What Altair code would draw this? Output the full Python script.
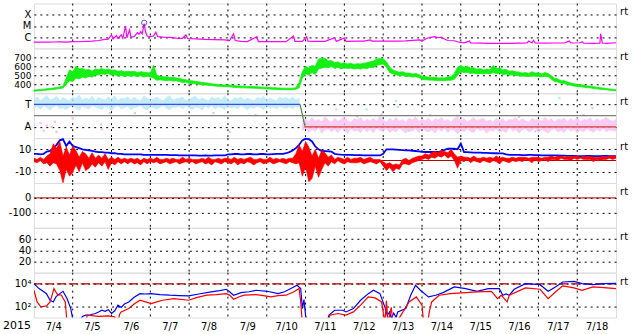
import altair as alt
import pandas as pd

W, H = 584, 45
FONT = "DejaVu Sans"

# ---------------- data (hours since 2015-07-04 00:00) ----------------
day_lines = [24, 48, 72, 96, 120, 144, 168, 192, 216, 240, 264, 288, 312, 336]
day_label_pos = [12, 36, 60, 84, 108, 132, 156, 180, 204, 228, 252, 276, 300, 324, 348]
hours2 = list(range(0, 361, 2))

# X-ray flux (log10 W/m2)
xray_h = [0, 4, 8, 12, 16, 20, 24, 28, 32, 36, 40, 44, 46, 48, 49, 51, 52, 54, 55, 56.7, 57.5,
          59.2, 60, 62, 64, 65, 66, 67, 68.2, 69, 70, 72, 74, 75.4, 76.5, 80, 84, 88, 92, 94, 95,
          100, 106, 112, 118, 121, 123.5, 124.5, 128, 132, 137.9, 138.8, 144, 150, 156, 160.5,
          161.5, 166, 168.7, 169.5, 174, 180, 186, 187, 192, 193, 200, 204, 208, 209, 216, 224,
          230, 238.6, 240, 243, 246, 248, 250, 252, 253.5, 256, 260, 263, 266, 269.4, 270, 276,
          282, 288, 294, 300, 305, 306, 308, 309, 310, 316, 322, 328, 331, 332, 338, 339, 340,
          346, 350, 350.5, 351.5, 354, 360]
xray_log = [-6.45, -6.44, -6.45, -6.43, -6.42, -6.44, -6.40, -6.41, -6.38, -6.36, -6.30, -6.20,
            -6.17, -5.80, -6.15, -5.85, -6.12, -5.80, -6.10, -5.00, -6.05, -5.34, -6.00, -5.95,
            -5.60, -5.75, -5.50, -5.70, -4.80, -5.50, -5.90, -5.95, -5.90, -5.55, -5.95, -6.00,
            -6.02, -6.08, -6.10, -5.80, -6.12, -6.15, -6.20, -6.22, -6.25, -6.30, -5.70, -6.30,
            -6.38, -6.40, -5.95, -6.40, -6.40, -6.40, -6.40, -5.90, -6.38, -6.38, -5.95, -6.36,
            -6.38, -6.37, -6.05, -6.38, -6.08, -6.38, -6.36, -6.35, -6.25, -6.36, -6.36, -6.35,
            -6.33, -6.25, -6.35, -6.10, -6.00, -5.95, -6.05, -6.00, -6.15, -6.30, -6.32, -6.45,
            -6.50, -6.35, -6.52, -6.54, -6.55, -6.55, -6.56, -6.54, -6.52, -6.35, -6.52, -6.28,
            -6.52, -6.53, -6.52, -6.52, -6.35, -6.52, -6.50, -6.40, -6.54, -6.55, -6.54, -5.70,
            -6.52, -6.55, -6.50]
flare_h = [68.2]
flare_log = [-4.72]

# Solar wind speed (km/s): low / high of each 2-hour bin
wind_lo = [322, 326, 328, 332, 335, 338, 342, 347, 352, 358,
           400, 440, 430, 470, 460, 480, 470, 490, 480, 500,
           505, 515, 510, 520, 500, 505, 490, 500, 485, 495,
           490, 495, 485, 495, 480, 490, 480, 470, 445, 450,
           445, 440, 445, 435, 440, 430, 420, 425, 410, 405,
           405, 400, 395, 392, 388, 385, 380, 378, 375, 372,
           372, 370, 365, 364, 360, 360, 358, 357, 356, 355,
           352, 350, 348, 346, 344, 342, 340, 340, 338, 338,
           340, 345, 360, 470, 520, 500, 530, 510, 570, 580,
           590, 585, 600, 575, 590, 570, 585, 575, 580, 570,
           575, 570, 580, 575, 590, 585, 610, 620, 625, 590,
           530, 515, 505, 495, 500, 485, 490, 480, 485, 475,
           455, 450, 448, 445, 445, 440, 442, 440, 445, 445,
           455, 500, 540, 530, 535, 520, 525, 515, 520, 515,
           520, 515, 530, 520, 525, 505, 515, 500, 505, 495,
           495, 490, 492, 485, 495, 488, 490, 482, 490, 485,
           455, 432, 425, 410, 408, 395, 388, 380, 375, 372,
           368, 362, 360, 352, 350, 344, 342, 338, 334, 330, 326]
wind_hi = [336, 338, 342, 345, 350, 352, 358, 364, 370, 380,
           470, 560, 540, 600, 570, 575, 560, 565, 545, 570,
           565, 575, 560, 570, 555, 560, 545, 550, 540, 545,
           540, 545, 530, 540, 535, 530, 525, 612, 500, 490,
           485, 480, 478, 475, 470, 468, 455, 450, 440, 438,
           432, 428, 420, 418, 412, 405, 400, 398, 395, 392,
           392, 390, 385, 382, 380, 378, 376, 375, 374, 372,
           370, 368, 366, 364, 362, 360, 358, 356, 355, 356,
           356, 362, 420, 540, 600, 580, 610, 600, 680, 690,
           690, 660, 665, 640, 650, 630, 640, 625, 635, 620,
           630, 625, 635, 640, 650, 660, 680, 690, 685, 650,
           590, 560, 545, 535, 540, 525, 525, 515, 520, 510,
           490, 485, 480, 475, 478, 470, 472, 470, 480, 485,
           520, 590, 610, 590, 600, 580, 585, 565, 575, 560,
           570, 560, 610, 575, 585, 560, 565, 545, 550, 540,
           535, 525, 530, 520, 540, 525, 528, 515, 530, 520,
           495, 465, 460, 440, 440, 425, 415, 405, 400, 395,
           390, 382, 380, 372, 368, 362, 358, 352, 348, 344, 340]

# IMF sector (phi angle, deg): low / high of each 2-hour bin
toward_h = list(range(0, 165, 2))
toward_lo = [240, 255, 230, 260, 245, 225, 250, 265, 235, 245,
             230, 250, 260, 240, 225, 255, 245, 235, 260, 250,
             240, 230, 255, 245, 220, 250, 260, 235, 245, 255,
             230, 245, 250, 260, 240, 225, 255, 245, 235, 250,
             260, 240, 230, 250, 245, 255, 235, 260, 240, 230,
             250, 245, 225, 255, 240, 260, 235, 250, 245, 230,
             255, 240, 250, 235, 260, 245, 230, 250, 240, 255,
             245, 230, 260, 240, 250, 235, 255, 245, 240, 250,
             235, 255, 245]
toward_hi = [310, 330, 300, 320, 340, 305, 315, 335, 300, 325,
             310, 300, 330, 315, 345, 305, 320, 310, 335, 300,
             325, 315, 305, 330, 310, 340, 300, 320, 315, 330,
             305, 325, 310, 300, 335, 320, 305, 315, 330, 310,
             300, 325, 340, 305, 315, 320, 330, 300, 310, 325,
             335, 305, 320, 310, 300, 330, 315, 325, 305, 340,
             310, 300, 325, 315, 330, 305, 320, 310, 300, 325,
             315, 335, 305, 320, 310, 300, 330, 315, 325, 310,
             330, 305, 320]
away_h = list(range(166, 361, 2))
away_lo = [60, 80, 45, 70, 55, 85, 40, 65, 75, 50,
           70, 45, 80, 60, 35, 75, 55, 65, 45, 80,
           50, 70, 40, 85, 60, 55, 75, 45, 65, 50,
           80, 60, 40, 70, 55, 75, 45, 85, 60, 50,
           65, 40, 75, 55, 80, 45, 70, 60, 35, 65,
           50, 75, 55, 45, 80, 60, 70, 40, 65, 55,
           75, 50, 60, 45, 85, 55, 70, 40, 65, 75,
           50, 60, 80, 45, 70, 55, 40, 65, 75, 50,
           60, 45, 80, 55, 70, 40, 65, 50, 75, 60,
           45, 70, 55, 80, 50, 65, 60, 55]
away_hi = [140, 155, 125, 165, 135, 150, 130, 170, 145, 125,
           160, 135, 150, 170, 140, 125, 155, 145, 165, 130,
           150, 140, 160, 135, 175, 145, 130, 155, 140, 165,
           135, 150, 125, 160, 145, 170, 135, 150, 140, 160,
           130, 155, 145, 165, 135, 150, 125, 160, 170, 140,
           155, 130, 145, 165, 140, 150, 160, 135, 145, 125,
           160, 140, 155, 130, 150, 145, 165, 135, 155, 140,
           125, 160, 145, 150, 135, 165, 140, 155, 130, 150,
           145, 160, 135, 155, 140, 165, 130, 150, 145, 160,
           135, 155, 140, 150, 165, 145, 135, 150]
stray_pink_h = [4, 6, 8, 11, 13, 24, 41.6, 42, 121]
stray_pink_v = [120, 60, 100, 90, 130, 160, 110, 70, 50]
stray_gray_h = [14, 47, 62.5, 111, 137, 200, 215, 232, 245, 262, 300, 310, 340]
stray_gray_v = [50, 200, 200, 200, 185, 175, 190, 60, 185, 180, 170, 55, 185]
stray_blue_h = [187, 205.7, 224, 225, 286, 325, 345.4]
stray_blue_v = [230, 230, 296, 250, 260, 322, 240]
sector_toward_h = [0, 164.6]
sector_toward_v = [270, 270]
sector_switch_h = [164.6, 167.7]
sector_switch_v = [270, 90]
sector_away_h = [167.7, 360]
sector_away_v = [90, 90]

# IMF Bt (nT), every 2 h
bt = [6, 6, 5.5, 6, 8, 8.5, 11, 14, 18, 19,
      13, 17, 13, 12, 11, 10, 9.5, 9, 8.5, 8,
      7.5, 7.5, 7, 7, 6.5, 6.5, 6, 6, 5.5, 5.5,
      5.5, 5.5, 5.5, 5.5, 5, 5, 5, 5, 5, 5,
      5, 5, 4.8, 4.8, 4.8, 4.5, 4.5, 4.5, 4.5, 4.5,
      4.5, 4.3, 4.3, 4.5, 4.3, 4.3, 4.5, 4.5, 4.5, 4.5,
      5.5, 5.5, 5.8, 5.8, 5.5, 5.5, 5.8, 5.8, 5.5, 5.5,
      5.8, 5.8, 5.5, 5.5, 5.8, 6, 6, 6, 6.5, 7.5,
      9, 11, 14, 18, 19.5, 19, 17, 12.5, 10, 8.5,
      8.4, 8.2, 8, 6, 5.5, 5.2, 5, 5, 5, 4.8,
      4.8, 4.8, 4.6, 4.6, 4.5, 4.5, 4.5, 4.5, 6, 10,
      10, 10, 9.8, 9.5, 9.3, 9, 9, 8.7, 8.5, 8.2,
      7.8, 7.6, 7.6, 7.6, 7.6, 7.6, 8.5, 9.5, 10.5, 10.5,
      10.5, 10, 15, 7.5, 7.4, 7.2, 7, 7, 7, 6.8,
      6.8, 6.6, 6.5, 6.5, 6.4, 6.4, 5.5, 5, 5, 5,
      5, 4.8, 4.8, 5, 5, 4.8, 4.8, 4.6, 4.6, 4.5,
      4.5, 4.6, 4.6, 4.4, 4.4, 4.2, 4.2, 4.2, 4.0, 4.0,
      4, 4.2, 4.2, 4, 4, 4, 4.2, 4.2, 4, 4, 4]
# IMF Bz (nT): low / high of each 2-hour bin
bz_lo = [-1, -2, 0, -3, -2, -5, -2, -3, -9, -20,
         -8, -14, -11, -4, -10, -2, -9, -7, -3, -6,
         -2, -5, -1, -8, -2, -4, -1, -3, -1, -3,
         -1, -3, -2, -4, -1, -3, -1, -2, -1, -3,
         -2, -1, -3, -2, -1, -3, -2, -1, -2, -1,
         -3, -2, -1, -3, -2, -4, -1, -2, -3, -1,
         -2, -3, -1, -4, -2, -3, -1, -2, -4, -2,
         -1, -3, -2, -1, -3, -2, -1, -2, -3, -1,
         -2, -3, -2, -14, -6, -19, -16, -5, -15, -8,
         -2, -5, -1, -3, 0, -2, -3, -1, -2, -2,
         -2, -1, -3, -2, -1, -2, -3, -1, -5, -9,
         -6, -10, -7, -8, -3, -3, -4, -2, -1, 0,
         1, 2, 1, 3, 2, 4, 3, 5, 2, 4,
         0, -7, 0, -1, 1, -2, 0, -1, -2, 0,
         -1, -2, 0, -1, -3, 0, -1, -2, 0, -1,
         0, -1, 1, 0, -2, 1, -1, 0, 1, -1,
         1, 1, 0, 2, 1, 1, 0, 2, 1, 2,
         1, 1, 1, -1, 1, 0, 1, 1, 2, 1, 2]
bz_hi = [2, 1, 3, 1, 4, 6, 15, 11, 17, 4,
         12, 5, 13, 9, 3, 8, 6, 2, 7, 2,
         5, 2, 6, 1, 3, 1, 3, 1, 2, 1,
         2, 1, 2, 0, 2, 1, 2, 1, 3, 1,
         1, 2, 1, 2, 1, 1, 3, 1, 2, 1,
         1, 1, 2, 1, 3, 1, 1, 2, 1, 2,
         2, 1, 3, 1, 2, 1, 2, 3, 1, 1,
         2, 1, 1, 3, 1, 2, 1, 2, 1, 2,
         2, 6, 14, 8, 17, 12, 4, 10, 2, 9,
         7, 3, 5, 1, 3, 2, 1, 3, 1, 2,
         2, 3, 1, 2, 3, 1, 1, 1, -1, -3,
         -2, -4, -3, -4, 1, 2, 0, 2, 3, 4,
         4, 6, 5, 7, 8, 7, 9, 8, 7, 10,
         6, 3, 4, 3, 3, 2, 4, 2, 2, 3,
         2, 3, 2, 4, 2, 3, 2, 2, 3, 2,
         3, 3, 3, 2, 3, 3, 3, 2, 3, 3,
         4, 3, 4, 4, 3, 4, 3, 4, 4, 3,
         4, 3, 4, 3, 3, 3, 4, 3, 4, 4, 4]

# Electron flux (log10), two channels
elec_blue_h = [0, 3.2, 7.8, 10, 12, 13.6, 16, 18, 20.5, 22.8, 24.5, 28, 30, 32, 35, 38, 40, 42, 44,
               46, 48, 50, 52, 54, 56, 58.7, 62, 65.6, 69, 72.6, 78, 84, 90, 95.7, 102, 109.6, 115,
               119, 121, 123.5, 128, 133, 137.4, 144.3, 151, 155, 158, 162.8, 165, 166, 167, 168,
               169, 175, 181, 182.5, 186, 191, 193, 197.6, 202, 206.8, 210, 214, 217, 218.5, 220,
               221, 222.5, 224, 225, 230, 233, 236, 239, 244, 248.5, 253, 260, 267, 274, 281,
               287.8, 290, 292, 294, 297, 304, 313, 318, 322.5, 327, 334, 339, 345.7, 352.6, 360]
elec_blue_log = [4.02, 3.58, 3.13, 2.54, 2.39, 2.84, 3.13, 3.34, 2.69, 1.80, 0.5, 0.5, 1.1, 1.21,
                 1.25, 1.36, 1.5, 1.65, 1.55, 1.7, 1.36, 1.6, 2.1, 1.9, 2.2, 2.39, 2.8, 3.13, 3.1,
                 3.13, 3.05, 2.99, 2.95, 2.93, 3.1, 3.28, 3.4, 3.52, 3.3, 2.99, 3.22, 3.3, 3.43,
                 3.34, 3.13, 3.3, 3.52, 3.87, 3.58, 1.8, 2.6, 1.2, 0.5, 0.5, 0.5, 1.21, 1.65, 1.65,
                 1.5, 1.8, 2.54, 3.13, 3.43, 3.13, 1.95, 1.2, 1.5, 0.9, 1.4, 1.0, 1.5, 1.8, 2.99,
                 3.87, 3.43, 2.84, 2.99, 3.22, 3.73, 3.58, 3.34, 3.58, 3.58, 2.99, 3.1, 2.99, 3.52,
                 4.02, 3.93, 3.34, 3.73, 4.17, 4.23, 4.02, 3.93, 4.02, 4.05]
elec_red_h = [0, 2, 4.3, 7.8, 10, 12.4, 13.5, 14.7, 17, 19.4, 20.5, 32, 33, 40, 46, 50, 52, 53, 54,
              58.7, 62, 65.6, 69, 72.6, 76, 79.5, 86.5, 95.7, 101, 107, 113, 119, 121, 123.5, 127,
              130, 137.4, 142, 146.6, 151, 155.9, 160.5, 164, 165, 166, 182, 183, 188, 193, 197.6,
              202, 206.8, 211, 215, 216, 217, 218, 219, 221, 222, 224, 227, 232, 236.5, 240, 241,
              243.5, 244.5, 246, 250.6, 257.5, 267, 274, 283, 286.7, 289, 292.6, 294, 304, 313,
              318, 322.5, 327, 334, 339, 345.7, 352.6, 360]
elec_red_log = [3.43, 2.39, 1.95, 2.04, 2.39, 3.58, 3.3, 3.04, 2.99, 2.39, 0.5, 0.5, 1.21, 1.1,
                1.15, 1.06, 0.5, 1.3, 1.5, 1.8, 2.2, 2.54, 2.4, 2.24, 2.4, 2.54, 2.69, 2.54, 2.8,
                2.99, 3.05, 3.13, 3.0, 2.63, 2.85, 2.99, 3.04, 2.95, 2.84, 2.95, 2.99, 3.28, 3.58,
                2.39, 0.5, 0.5, 1.21, 1.36, 1.21, 1.5, 2.1, 2.84, 2.75, 2.39, 1.5, 0.5, 2.5, 0.5,
                1.9, 0.5, 0.5, 1.21, 2.39, 2.84, 2.1, 0.5, 0.5, 1.5, 2.39, 2.99, 3.13, 3.22, 3.28,
                3.34, 2.69, 2.99, 2.39, 2.99, 3.64, 3.52, 2.69, 3.28, 3.82, 3.64, 3.43, 3.73, 3.67,
                3.58]

# ---------------- helpers ----------------
DOT = [2, 4]
NEG = "datum.value < 0 ? '-' + abs(datum.value) : '' + datum.value"


def df(h, v):
    return pd.DataFrame({"h": h, "v": v})


def band(h, lo, hi):
    return pd.DataFrame({"h": h, "v": lo, "v2": hi})


def xenc(bottom=False):
    if bottom:
        ax = alt.Axis(values=day_label_pos, labelExpr="'7/' + (floor(datum.value / 24) + 4)",
                      grid=False, ticks=False, domain=False, title=None, labelFontSize=10,
                      labelPadding=4, labelFont=FONT, labelColor="black", labelAngle=0,
                      labelOverlap=False)
    else:
        ax = None
    return alt.X("h:Q", scale=alt.Scale(domain=[0, 360], nice=False, zero=False), axis=ax)


def yaxis(values, expr, size=10):
    return alt.Axis(values=values, labelExpr=expr, grid=True, gridDash=DOT, gridColor="black",
                    gridOpacity=1, gridWidth=1, ticks=False, domain=False, title=None,
                    labelFont=FONT, labelFontSize=size, labelColor="black", labelPadding=3,
                    labelOverlap=False)


def yscale(dom):
    return alt.Scale(domain=dom, nice=False, zero=False)


def rt_layer():
    return alt.Chart(pd.DataFrame({"t": ["rt"]})).mark_text(
        align="left", baseline="middle", fontSize=10, font=FONT, color="black").encode(
        x=alt.value(W + 4), y=alt.value(9), text="t:N")


def vgrid(x):
    return alt.Chart(pd.DataFrame({"h": day_lines})).mark_rule(
        color="black", strokeDash=DOT, strokeWidth=1).encode(x=x)


def line(d, color, width=1.2):
    return alt.Chart(d).mark_line(color=color, strokeWidth=width, clip=True)


def area(d, color, opacity=1.0, sw=0.8):
    return alt.Chart(d).mark_area(color=color, opacity=opacity, clip=True,
                                  stroke=color, strokeWidth=sw)


one = pd.DataFrame({"a": [0]})

# Panel 1: X-ray
x = xenc()
y1 = alt.Y("v:Q", scale=yscale([-7, -3]),
           axis=yaxis([-6, -5, -4], "datum.value == -6 ? 'C' : datum.value == -5 ? 'M' : 'X'"))
p1 = alt.layer(
    vgrid(x),
    line(df(xray_h, xray_log), "#ff00ff", 1.2).encode(x=x, y=y1),
    alt.Chart(df(flare_h, flare_log)).mark_point(shape="circle", size=28, filled=False,
                                                 color="#1010c0", strokeWidth=1).encode(x=x, y=y1),
    alt.Chart(one).mark_rule(strokeOpacity=0).encode(
        x=alt.value(-33), x2=alt.value(W + 16), y=alt.value(-2)),
    rt_layer(),
).properties(width=W, height=H)

# Panel 2: wind speed
y2 = alt.Y("v:Q", scale=yscale([300, 800]),
           axis=yaxis([400, 500, 600, 700], "'' + datum.value", size=9))
p2 = alt.layer(
    vgrid(x),
    area(band(hours2, wind_lo, wind_hi), "#14f014").encode(x=x, y=y2, y2="v2:Q"),
    rt_layer(),
).properties(width=W, height=H)

# Panel 3: IMF sector
y3 = alt.Y("v:Q", scale=yscale([0, 360]), axis=yaxis([90, 270], "datum.value == 90 ? 'A' : 'T'"))
sq = dict(shape="square", size=5, filled=True, opacity=1, clip=True)
p3 = alt.layer(
    vgrid(x),
    area(band(toward_h, toward_lo, toward_hi), "#b4e8f8", 0.8).encode(x=x, y=y3, y2="v2:Q"),
    area(band(away_h, away_lo, away_hi), "#f8c0f0", 0.8).encode(x=x, y=y3, y2="v2:Q"),
    alt.Chart(df(stray_pink_h, stray_pink_v)).mark_point(color="#f8c0f0", **sq).encode(x=x, y=y3),
    alt.Chart(df(stray_gray_h, stray_gray_v)).mark_point(color="#d4d4d4", **sq).encode(x=x, y=y3),
    alt.Chart(df(stray_blue_h, stray_blue_v)).mark_point(color="#b4e8f8", **sq).encode(x=x, y=y3),
    alt.Chart(one).mark_rule(color="#808080", strokeWidth=1.2).encode(y=alt.Y(datum=180)),
    line(df(sector_toward_h, sector_toward_v), "#4848e8", 1.2).encode(x=x, y=y3),
    line(df(sector_switch_h, sector_switch_v), "#4a8a4a", 1.2).encode(x=x, y=y3),
    line(df(sector_away_h, sector_away_v), "#d83838", 1.2).encode(x=x, y=y3),
    rt_layer(),
).properties(width=W, height=H)

# Panel 4: Bt / Bz
y4 = alt.Y("v:Q", scale=yscale([-20, 20]), axis=yaxis([-10, 0, 10], NEG))
p4 = alt.layer(
    vgrid(x),
    alt.Chart(one).mark_rule(color="#b00000", strokeWidth=1).encode(y=alt.Y(datum=0)),
    line(df(hours2, bt), "#0000ff", 1.8).encode(x=x, y=y4),
    area(band(hours2, bz_lo, bz_hi), "#ff0000", sw=0.6).encode(x=x, y=y4, y2="v2:Q"),
    rt_layer(),
).properties(width=W, height=H)

# Panel 5
p5 = alt.layer(
    vgrid(x),
    alt.Chart(one).mark_rule(strokeOpacity=0).encode(
        y=alt.Y(datum=-100, scale=yscale([-200, 100]), axis=yaxis([-100, 0], NEG))),
    alt.Chart(one).mark_rule(color="#b00000", strokeWidth=1).encode(y=alt.Y(datum=0)),
    rt_layer(),
).properties(width=W, height=H)

# Panel 6
p6 = alt.layer(
    vgrid(x),
    alt.Chart(one).mark_rule(strokeOpacity=0).encode(
        y=alt.Y(datum=0, scale=yscale([0, 80]), axis=yaxis([20, 40, 60], "'' + datum.value"))),
    rt_layer(),
).properties(width=W, height=H)

# Panel 7: electrons
xb = xenc(bottom=True)
y7 = alt.Y("v:Q", scale=yscale([1, 5]),
           axis=yaxis([2, 3, 4],
                      "'10' + (datum.value == 4 ? '\u2074' : datum.value == 3 ? '\u00b3' : '\u00b2')"))
p7 = alt.layer(
    vgrid(xb),
    alt.Chart(one).mark_rule(color="#b00000", strokeWidth=1.2, strokeDash=[9, 3]).encode(
        y=alt.Y(datum=4)),
    line(df(elec_blue_h, elec_blue_log), "#0000ff", 1.2).encode(x=xb, y=y7),
    line(df(elec_red_h, elec_red_log), "#ff0000", 1.2).encode(x=xb, y=y7),
    alt.Chart(pd.DataFrame({"t": ["2015"]})).mark_text(
        align="left", baseline="middle", fontSize=11, font=FONT, color="black").encode(
        x=alt.value(-31), y=alt.value(H + 9), text="t:N"),
    alt.Chart(one).mark_rule(strokeOpacity=0).encode(
        x=alt.value(-33), x2=alt.value(W + 16), y=alt.value(H + 17)),
    rt_layer(),
).properties(width=W, height=H)

chart = alt.vconcat(p1, p2, p3, p4, p5, p6, p7, spacing=0, bounds="flush").resolve_scale(
    x="independent", y="independent").properties(
    padding={"left": 0, "top": 0, "right": 0, "bottom": 0}).configure_view(
    stroke="black", strokeWidth=1).configure(background="white")

chart.save("out.html", embed_options={"renderer": "svg", "actions": False})
